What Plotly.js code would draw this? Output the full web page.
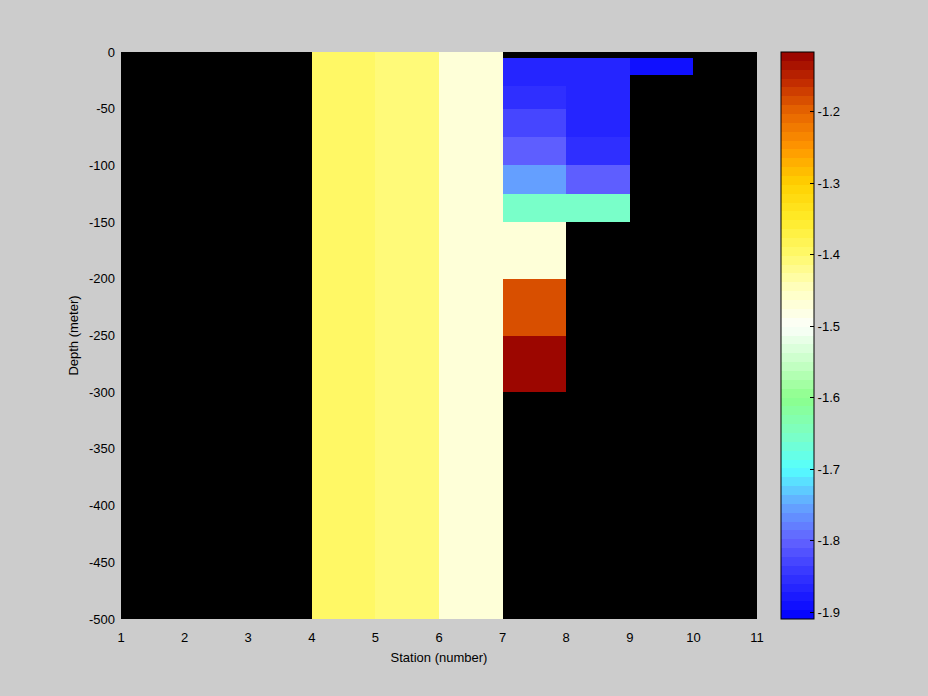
<!DOCTYPE html>
<html>
<head>
<meta charset="utf-8">
<script src="https://cdn.plot.ly/plotly-3.0.1.min.js"></script>
<style>html,body{margin:0;padding:0;background:#cccccc;}#chart{width:928px;height:696px;}</style>
</head>
<body>
<div id="chart"></div>
<script>
// Station cell edges (x) and depth cell edges (y, top to bottom)
const stationEdges = [1, 2, 3, 4, 5, 6, 7, 8, 9, 10, 11];
const depthEdges = [0, -5, -20, -30, -50, -75, -100, -125, -150, -200, -250, -300, -500];

// Values per station cell, listed from top depth band to bottom (null = no data)
const st1 = [null, null, null, null, null, null, null, null, null, null, null, null];
const st2 = [null, null, null, null, null, null, null, null, null, null, null, null];
const st3 = [null, null, null, null, null, null, null, null, null, null, null, null];
const st4 = [-1.395, -1.395, -1.395, -1.395, -1.395, -1.395, -1.395, -1.395, -1.395, -1.395, -1.395, -1.395];
const st5 = [-1.41, -1.41, -1.41, -1.41, -1.41, -1.41, -1.41, -1.41, -1.41, -1.41, -1.41, -1.41];
const st6 = [-1.465, -1.465, -1.465, -1.465, -1.465, -1.465, -1.465, -1.465, -1.465, -1.465, -1.465, -1.465];
const st7 = [null, -1.867, -1.867, -1.85, -1.825, -1.81, -1.755, -1.66, -1.465, -1.185, -1.12, null];
const st8 = [null, -1.867, -1.867, -1.867, -1.867, -1.85, -1.81, -1.66, null, null, null, null];
const st9 = [null, -1.885, null, null, null, null, null, null, null, null, null, null];
const st10 = [null, null, null, null, null, null, null, null, null, null, null, null];

const colorTickVals = [-1.9, -1.8, -1.7, -1.6, -1.5, -1.4, -1.3, -1.2];
const colorTickText = ['-1.9', '-1.8', '-1.7', '-1.6', '-1.5', '-1.4', '-1.3', '-1.2'];
const yTickVals = [0, -50, -100, -150, -200, -250, -300, -350, -400, -450, -500];
const yTickText = ['0', '-50', '-100', '-150', '-200', '-250', '-300', '-350', '-400', '-450', '-500'];
const xTickVals = [1, 2, 3, 4, 5, 6, 7, 8, 9, 10, 11];

const cmin = -1.9094, cmax = -1.1163;

// colormap control points (value -> rgb)
const cmapVals = [-1.9094, -1.85, -1.80, -1.75, -1.70, -1.65, -1.60, -1.55, -1.50, -1.45, -1.40, -1.35, -1.30, -1.25, -1.20, -1.16, -1.1163];
const cmapRGB = [[0,0,255],[50,50,255],[98,98,255],[100,165,255],[85,255,255],[125,255,195],[140,255,140],[200,255,200],[252,255,250],[255,255,195],[255,249,108],[255,235,40],[255,208,0],[255,150,0],[230,100,0],[195,45,0],[150,0,0]];

function colorAt(v) {
  if (v <= cmapVals[0]) return cmapRGB[0];
  for (let i = 1; i < cmapVals.length; i++) {
    if (v <= cmapVals[i]) {
      const t = (v - cmapVals[i-1]) / (cmapVals[i] - cmapVals[i-1]);
      return cmapRGB[i-1].map((c, k) => Math.round(c + t * (cmapRGB[i][k] - c)));
    }
  }
  return cmapRGB[cmapRGB.length - 1];
}
const nLevels = 64;
const colorscale = [];
for (let i = 0; i < nLevels; i++) {
  const v = cmin + (i + 0.5) * (cmax - cmin) / nLevels;
  const c = colorAt(v);
  const s = 'rgb(' + c.join(',') + ')';
  colorscale.push([i / nLevels, s]);
  colorscale.push([(i + 1) / nLevels, s]);
}

const cols = [st1, st2, st3, st4, st5, st6, st7, st8, st9, st10];
// Build z (rows ascending in depth value) and ascending y edges
const yEdgesAsc = depthEdges.slice().reverse();
const nRows = depthEdges.length - 1;
const z = [];
for (let r = nRows - 1; r >= 0; r--) {
  z.push(cols.map(c => c[r]));
}

const font = {family: 'Liberation Sans, Arial, sans-serif', size: 13, color: '#000'};

const trace = {
  type: 'heatmap',
  x: stationEdges,
  y: yEdgesAsc,
  z: z,
  zmin: cmin,
  zmax: cmax,
  zsmooth: false,
  colorscale: colorscale,
  hoverongaps: false,
  colorbar: {
    x: (781 - 121) / 636,
    xanchor: 'left',
    xref: 'paper',
    xpad: 0,
    y: 0.5,
    yanchor: 'middle',
    len: 1,
    lenmode: 'fraction',
    ypad: 0,
    thickness: 33,
    thicknessmode: 'pixels',
    outlinewidth: 1,
    outlinecolor: '#000',
    tickmode: 'array',
    tickvals: colorTickVals,
    ticktext: colorTickText,
    ticks: 'inside',
    ticklen: 4,
    tickcolor: '#000',
    tickfont: font,
    ticklabelpad: 2
  }
};

const layout = {
  width: 928,
  height: 696,
  paper_bgcolor: '#cccccc',
  plot_bgcolor: '#000000',
  font: font,
  margin: {l: 121, r: 171, t: 52, b: 77, pad: 0},
  showlegend: false,
  xaxis: {
    range: [1, 11],
    tickmode: 'array',
    tickvals: xTickVals,
    ticks: '',
    ticklabelstandoff: 9,
    showgrid: false,
    zeroline: false,
    showline: false,
    tickfont: font,
    automargin: false,
    title: {text: 'Station (number)', font: font, standoff: 8}
  },
  yaxis: {
    range: [-500, 0],
    tickmode: 'array',
    tickvals: yTickVals,
    ticktext: yTickText,
    ticks: '',
    ticklabelstandoff: 5,
    showgrid: false,
    zeroline: false,
    showline: false,
    tickfont: font,
    automargin: false,
    title: {text: 'Depth (meter)', font: font, standoff: 7}
  }
};

Plotly.newPlot('chart', [trace], layout, {displayModeBar: false, staticPlot: true});
</script>
</body>
</html>
